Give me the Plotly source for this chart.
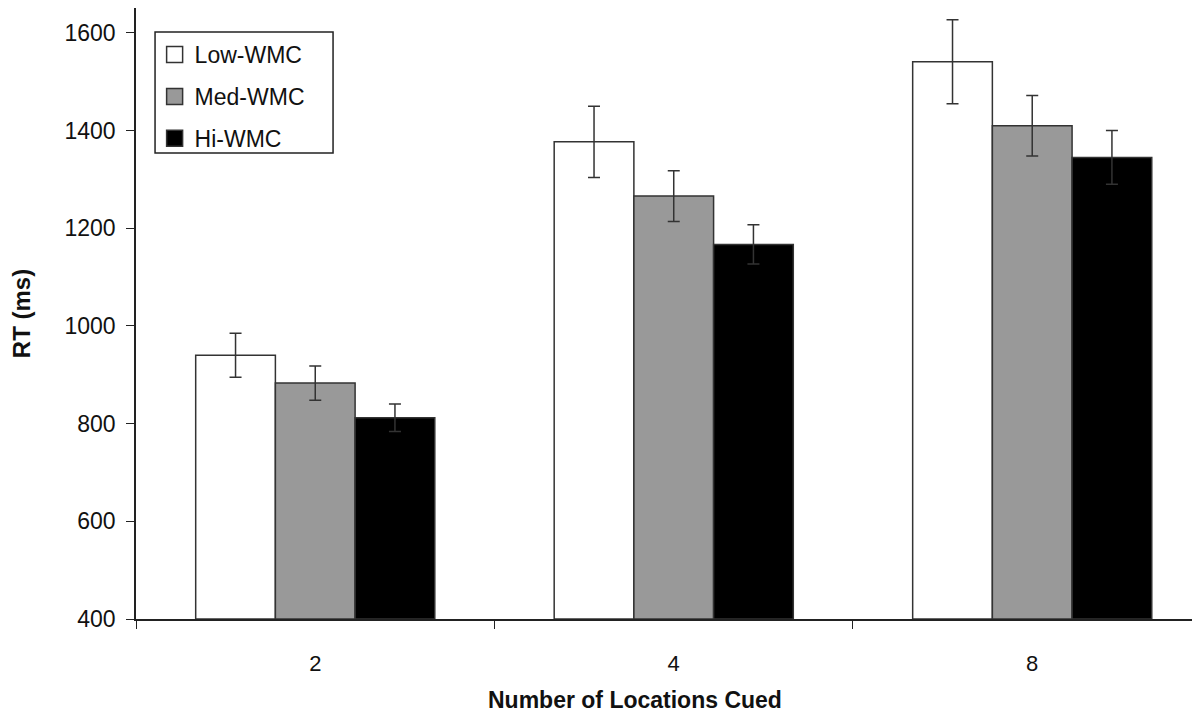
import plotly.graph_objects as go

categories = ["2", "4", "8"]
series_names = ["Low-WMC", "Med-WMC", "Hi-WMC"]
low_vals = [940, 1377, 1541]
med_vals = [883, 1266, 1410]
hi_vals = [812, 1167, 1345]
low_err = [45, 73, 86]
med_err = [35, 52, 62]
hi_err = [28, 40, 55]
y_ticks = [400, 600, 800, 1000, 1200, 1400, 1600]

fills = ["#ffffff", "#999999", "#000000"]
values = [low_vals, med_vals, hi_vals]
errs = [low_err, med_err, hi_err]

fig = go.Figure()
for name, vals, err, col in zip(series_names, values, errs, fills):
    fig.add_trace(go.Bar(
        x=categories, y=[v - 400 for v in vals], base=400, name=name,
        legendgroup=name, showlegend=False,
        marker=dict(color=col, line=dict(color="#333333", width=1.5)),
        error_y=dict(type="data", array=err, visible=True, color="#333333",
                     thickness=1.5, width=6),
    ))
    # legend key (square swatch)
    fig.add_trace(go.Scatter(
        x=[None], y=[None], mode="markers", name=name, legendgroup=name,
        marker=dict(symbol="square", size=17, color=col,
                    line=dict(color="#333333", width=1.5)),
    ))

font = "Liberation Sans, Arial, sans-serif"
fig.update_layout(
    width=1192, height=706,
    margin=dict(l=128, r=0, t=0, b=95, autoexpand=False),
    paper_bgcolor="white", plot_bgcolor="white",
    barmode="group", bargap=0.333, bargroupgap=0,
    font=dict(family=font, size=22, color="#111111"),
    showlegend=True,
    legend=dict(x=0.0175, y=0.959, xanchor="left", yanchor="top",
                bgcolor="rgba(0,0,0,0)", borderwidth=0,
                font=dict(size=23), itemsizing="trace", tracegroupgap=9,
                traceorder="grouped"),
    xaxis=dict(type="category", range=[-0.5, 2.468], showline=True,
               linecolor="#222222", linewidth=1.5, mirror=True,
               ticks="outside", tickson="boundaries", ticklen=8,
               tickcolor="#222222", ticklabelstandoff=24,
               showgrid=False, automargin=False,
               tickfont=dict(size=22)),
    yaxis=dict(range=[400, 1651], tickvals=y_ticks, showline=True,
               linecolor="#222222", linewidth=1.5, ticks="outside", ticklen=8,
               tickcolor="#222222", showgrid=False, zeroline=False,
               automargin=False, ticklabelstandoff=6,
               tickfont=dict(size=23),
               title=dict(text="<b>RT (ms)</b>", standoff=28,
                          font=dict(size=24))),
    shapes=[dict(type="rect", xref="paper", yref="paper",
                 x0=0.0179, x1=0.1852, y0=0.7627, y1=0.9607,
                 line=dict(color="#222222", width=1.5),
                 fillcolor="white", layer="below")],
    annotations=[dict(text="<b>Number of Locations Cued</b>", xref="paper",
                      yref="paper", x=0.469, y=-0.1326, xanchor="center",
                      yanchor="middle", showarrow=False,
                      font=dict(size=23))],
)

fig.write_html("out.html")
